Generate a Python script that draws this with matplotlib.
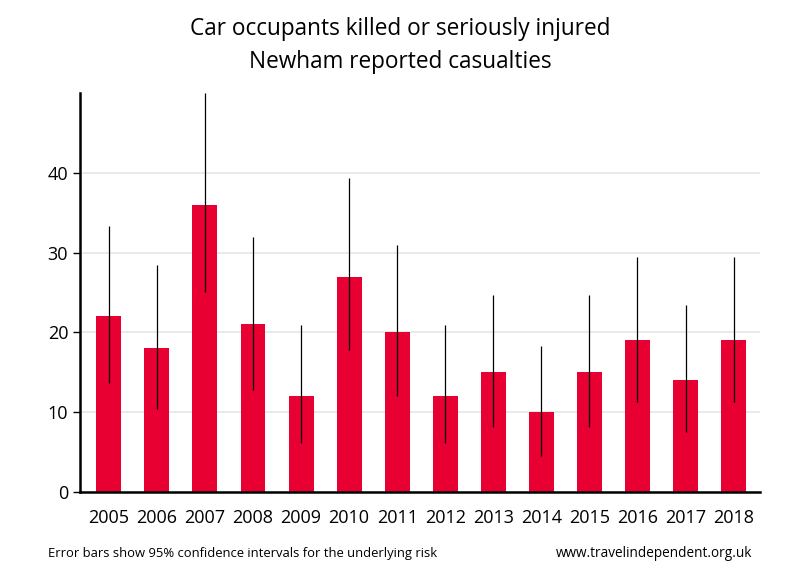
import matplotlib.pyplot as plt
import numpy as np

years = ['2005', '2006', '2007', '2008', '2009', '2010', '2011',
         '2012', '2013', '2014', '2015', '2016', '2017', '2018']
casualties = [22, 18, 36, 21, 12, 27, 20, 12, 15, 10, 15, 19, 14, 19]
ci_low = [13.6, 10.4, 25.0, 12.8, 6.1, 17.8, 12.0, 6.1, 8.2, 4.5, 8.2, 11.3, 7.5, 11.3]
ci_high = [33.3, 28.4, 50.0, 32.0, 20.9, 39.3, 30.9, 20.9, 24.7, 18.3, 24.7, 29.5, 23.4, 29.5]

plt.rcParams['font.family'] = ['Open Sans', 'DejaVu Sans']

fig = plt.figure(figsize=(8, 5.8), dpi=100)
ax = fig.add_axes([0.1, 0.1517, 0.85, 0.688])

x = np.arange(len(years))
vals = np.array(casualties)
yerr = [vals - np.array(ci_low), np.array(ci_high) - vals]

ax.bar(x, vals, width=0.52, color='#e80032', linewidth=0, zorder=2)
ax.errorbar(x, vals, yerr=yerr, fmt='none', ecolor='black', elinewidth=0.9,
            capsize=0, zorder=3)

ax.set_xlim(-0.6, 13.55)
ax.set_ylim(0, 50)
ax.set_yticks([0, 10, 20, 30, 40])
ax.set_xticks(x)
ax.set_xticklabels(years)
ax.tick_params(axis='x', length=0, pad=12, labelsize=13)
ax.tick_params(axis='y', length=5, width=1, labelsize=13)
ax.grid(axis='y', color='#e6e6e6', linewidth=1.2, zorder=0)
ax.set_axisbelow(True)

for s in ['top', 'right']:
    ax.spines[s].set_visible(False)
ax.spines['left'].set_linewidth(1.8)
ax.spines['bottom'].set_linewidth(1.8)

fig.text(0.5, 0.95, 'Car occupants killed or seriously injured', ha='center',
         va='center', fontsize=16.3)
fig.text(0.5, 0.893, 'Newham reported casualties', ha='center',
         va='center', fontsize=16.3)
fig.text(0.06, 0.046, 'Error bars show 95% confidence intervals for the underlying risk',
         ha='left', va='center', fontsize=9.4)
fig.text(0.94, 0.046, 'www.travelindependent.org.uk', ha='right',
         va='center', fontsize=9.8)

fig.savefig('out.png', dpi=100)
